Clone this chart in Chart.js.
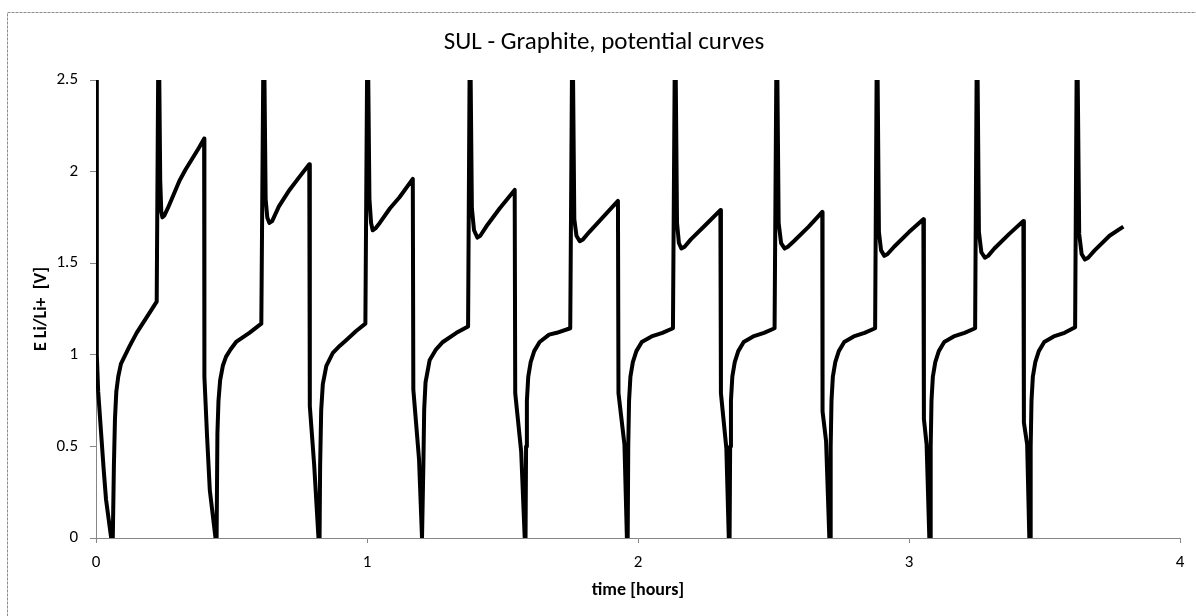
<!DOCTYPE html>
<html>
<head>
<meta charset="utf-8">
<script src="https://cdn.jsdelivr.net/npm/chart.js@4/dist/chart.umd.min.js"></script>
<style>
  html, body { margin: 0; padding: 0; background: #fff; }
</style>
</head>
<body>
<canvas id="potential" width="1196" height="616"></canvas>
<script>
// time [hours] and potential E Li/Li+ [V] (one row per cycle)
const timeHours = [
    0.000, 0.003, 0.008, 0.019, 0.028, 0.037, 0.056,
    0.062, 0.066, 0.070, 0.075, 0.082, 0.092, 0.105, 0.125, 0.150, 0.185, 0.224, 0.231, 0.237, 0.241, 0.245, 0.252, 0.265, 0.285, 0.308, 0.330, 0.355, 0.380, 0.399, 0.400, 0.410, 0.420, 0.441,
    0.445, 0.448, 0.452, 0.458, 0.468, 0.480, 0.497, 0.517, 0.566, 0.610, 0.619, 0.626, 0.632, 0.640, 0.650, 0.675, 0.714, 0.750, 0.787, 0.789, 0.805, 0.821,
    0.825, 0.827, 0.831, 0.837, 0.850, 0.874, 0.900, 0.923, 0.960, 0.994, 1.002, 1.009, 1.015, 1.021, 1.031, 1.047, 1.085, 1.120, 1.169, 1.171, 1.192, 1.203,
    1.206, 1.208, 1.211, 1.216, 1.231, 1.255, 1.280, 1.330, 1.373, 1.380, 1.387, 1.395, 1.407, 1.418, 1.440, 1.490, 1.545, 1.547, 1.569, 1.582,
    1.585, 1.587, 1.590, 1.595, 1.604, 1.617, 1.637, 1.672, 1.700, 1.750, 1.758, 1.765, 1.773, 1.785, 1.797, 1.820, 1.870, 1.926, 1.928, 1.950, 1.959,
    1.962, 1.964, 1.967, 1.972, 1.981, 1.994, 2.014, 2.050, 2.090, 2.129, 2.137, 2.144, 2.151, 2.160, 2.172, 2.195, 2.250, 2.304, 2.306, 2.326, 2.335,
    2.338, 2.340, 2.343, 2.348, 2.357, 2.370, 2.390, 2.425, 2.465, 2.504, 2.512, 2.519, 2.528, 2.541, 2.553, 2.575, 2.630, 2.680, 2.681, 2.694, 2.706,
    2.709, 2.711, 2.714, 2.719, 2.728, 2.741, 2.761, 2.796, 2.836, 2.875, 2.882, 2.889, 2.897, 2.909, 2.921, 2.945, 3.000, 3.053, 3.055, 3.065, 3.075,
    3.078, 3.080, 3.083, 3.088, 3.097, 3.110, 3.130, 3.165, 3.205, 3.244, 3.251, 3.258, 3.267, 3.280, 3.292, 3.315, 3.370, 3.422, 3.424, 3.436, 3.444,
    3.447, 3.449, 3.452, 3.457, 3.466, 3.479, 3.499, 3.534, 3.574, 3.613, 3.620, 3.628, 3.637, 3.649, 3.661, 3.685, 3.740, 3.791
];
const potentialV = [
    2.90, 1.00, 0.80, 0.57, 0.38, 0.21, 0.00,
    0.00, 0.39, 0.65, 0.80, 0.88, 0.95, 0.99, 1.05, 1.12, 1.20, 1.29, 2.90, 1.95, 1.78, 1.75, 1.76, 1.80, 1.87, 1.95, 2.01, 2.07, 2.13, 2.18, 0.88, 0.55, 0.26, 0.00,
    0.00, 0.57, 0.75, 0.86, 0.94, 0.99, 1.03, 1.07, 1.12, 1.17, 2.90, 1.85, 1.75, 1.72, 1.73, 1.81, 1.90, 1.97, 2.04, 0.72, 0.40, 0.00,
    0.00, 0.39, 0.70, 0.84, 0.94, 1.01, 1.05, 1.08, 1.13, 1.17, 2.90, 1.85, 1.72, 1.68, 1.69, 1.72, 1.80, 1.86, 1.96, 0.81, 0.43, 0.00,
    0.00, 0.40, 0.70, 0.85, 0.97, 1.03, 1.07, 1.12, 1.155, 2.90, 1.80, 1.68, 1.64, 1.65, 1.70, 1.80, 1.90, 0.79, 0.47, 0.00,
    0.00, 0.50, 0.75, 0.88, 0.96, 1.02, 1.07, 1.11, 1.12, 1.145, 2.90, 1.74, 1.65, 1.62, 1.63, 1.67, 1.75, 1.84, 0.79, 0.51, 0.00,
    0.00, 0.50, 0.75, 0.88, 0.96, 1.02, 1.07, 1.10, 1.12, 1.145, 2.90, 1.72, 1.61, 1.58, 1.59, 1.63, 1.71, 1.79, 0.79, 0.49, 0.00,
    0.00, 0.50, 0.75, 0.88, 0.96, 1.02, 1.07, 1.10, 1.12, 1.145, 2.90, 1.72, 1.61, 1.58, 1.59, 1.62, 1.70, 1.78, 0.69, 0.53, 0.00,
    0.00, 0.50, 0.75, 0.88, 0.96, 1.02, 1.07, 1.10, 1.12, 1.145, 2.90, 1.67, 1.57, 1.54, 1.55, 1.59, 1.67, 1.74, 0.65, 0.51, 0.00,
    0.00, 0.50, 0.75, 0.88, 0.96, 1.02, 1.07, 1.10, 1.12, 1.145, 2.90, 1.67, 1.56, 1.53, 1.54, 1.58, 1.66, 1.73, 0.63, 0.51, 0.00,
    0.00, 0.50, 0.75, 0.88, 0.96, 1.02, 1.07, 1.10, 1.12, 1.15, 2.90, 1.66, 1.55, 1.52, 1.53, 1.57, 1.65, 1.70
];
const xTickValues = [0, 1, 2, 3, 4];
const yTickValues = [0, 0.5, 1, 1.5, 2, 2.5];

const FONT = 'Carlito, Calibri, Lato, sans-serif';
const AXIS_GREY = '#868686';

// dashed frame round the whole chart, like the spreadsheet export
const frameBorder = {
    id: 'frameBorder',
    beforeDraw(chart) {
        const ctx = chart.ctx;
        ctx.save();
        ctx.strokeStyle = '#8c8c8c';
        ctx.lineWidth = 1;
        ctx.setLineDash([3, 1]);
        ctx.strokeRect(7.5, 12.5, chart.width, chart.height);
        ctx.restore();
    }
};

const ctx = document.getElementById('potential').getContext('2d');
new Chart(ctx, {
    type: 'line',
    data: {
        datasets: [{
            data: timeHours.map((t, i) => ({ x: t, y: potentialV[i] })),
            borderColor: '#000',
            borderWidth: 4,
            borderJoinStyle: 'round',
            pointRadius: 0,
            tension: 0,
            clip: 0,
        }]
    },
    plugins: [frameBorder],
    options: {
        responsive: false,
        animation: false,
        layout: {
            // left padding is wider so the title sits centred on the frame
            padding: { left: 28, top: 12, right: 16, bottom: 0 }
        },
        plugins: {
            legend: { display: false },
            tooltip: { enabled: false },
            title: {
                display: true,
                text: 'SUL - Graphite, potential curves',
                color: '#000',
                font: { family: FONT, size: 25, weight: 'normal' },
                padding: { top: 16, bottom: 22 }
            }
        },
        scales: {
            x: {
                type: 'linear',
                min: 0,
                max: 4,
                afterBuildTicks: (scale) => { scale.ticks = xTickValues.map(v => ({ value: v })); },
                ticks: {
                    color: '#000',
                    font: { family: FONT, size: 17 },
                    padding: 10,
                    callback: (v) => String(v)
                },
                grid: { drawOnChartArea: false, drawTicks: true, tickLength: 5, color: AXIS_GREY },
                border: { color: AXIS_GREY, width: 1 },
                title: {
                    display: true,
                    text: 'time [hours]',
                    color: '#000',
                    font: { family: FONT, size: 18, weight: 'bold' },
                    padding: { top: 2, bottom: 15 }
                },
                afterFit: (scale) => { scale.height = 78; }
            },
            y: {
                min: 0,
                max: 2.5,
                afterBuildTicks: (scale) => { scale.ticks = yTickValues.map(v => ({ value: v })); },
                ticks: {
                    color: '#000',
                    font: { family: FONT, size: 17 },
                    padding: 12,
                    callback: (v) => String(v)
                },
                grid: { drawOnChartArea: false, drawTicks: true, tickLength: 6, color: AXIS_GREY },
                border: { color: AXIS_GREY, width: 1 },
                title: {
                    display: true,
                    text: 'E Li/Li+  [V]',
                    color: '#000',
                    font: { family: FONT, size: 18, weight: 'bold' },
                    padding: { top: 3, bottom: 0 }
                },
                afterFit: (scale) => { scale.width = 68; }
            }
        }
    }
});
</script>
</body>
</html>
